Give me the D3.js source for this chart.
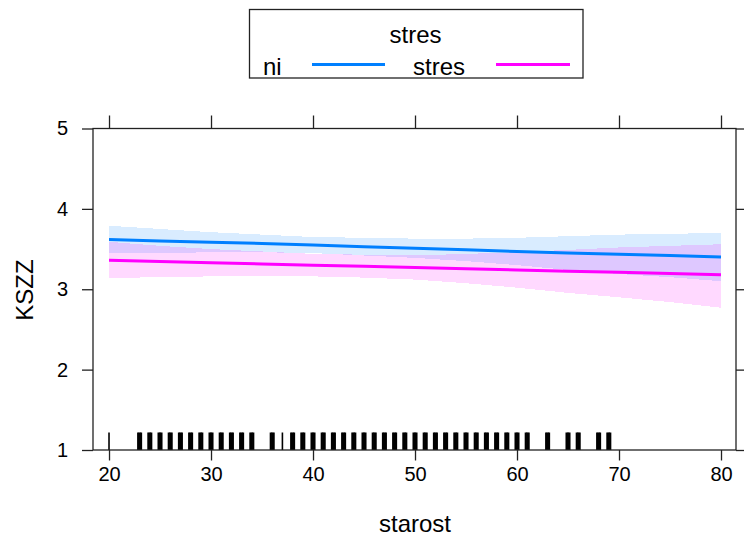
<!DOCTYPE html>
<html>
<head>
<meta charset="utf-8">
<script src="https://cdn.jsdelivr.net/npm/d3@7"></script>
<style>
  html, body { margin: 0; padding: 0; background: #fff; }
  text { font-family: "Liberation Sans", Arial, sans-serif; fill: #000; }
</style>
</head>
<body>
<svg id="chart" width="744" height="540"></svg>
<script>
// ---- data ----
const ages = [20, 25, 30, 35, 40, 45, 50, 55, 60, 65, 70, 75, 80];
const niFit   = [3.62, 3.60, 3.585, 3.57, 3.55, 3.53, 3.51, 3.49, 3.47, 3.45, 3.435, 3.42, 3.40];
const niUpper = [3.79, 3.75, 3.71, 3.68, 3.65, 3.64, 3.63, 3.63, 3.64, 3.66, 3.68, 3.69, 3.70];
const niLower = [3.45, 3.45, 3.46, 3.46, 3.45, 3.42, 3.39, 3.35, 3.30, 3.24, 3.19, 3.15, 3.10];
const stresFit   = [3.36, 3.345, 3.33, 3.315, 3.30, 3.285, 3.27, 3.255, 3.24, 3.225, 3.21, 3.195, 3.18];
const stresUpper = [3.59, 3.54, 3.50, 3.47, 3.44, 3.43, 3.42, 3.44, 3.46, 3.49, 3.52, 3.54, 3.56];
const stresLower = [3.14, 3.15, 3.16, 3.165, 3.16, 3.145, 3.12, 3.075, 3.02, 2.955, 2.90, 2.84, 2.77];
const rugAges   = [20, 23, 24, 25, 26, 27, 28, 29, 30, 31, 32, 33, 34, 36, 37, 38, 39, 40, 41, 42, 43, 44, 45, 46, 47, 48, 49,
                   50, 51, 52, 53, 54, 55, 56, 57, 58, 59, 60, 61, 63, 65, 66, 68, 69];
const rugCounts = [1, 3, 3, 3, 3, 3, 3, 3, 3, 3, 3, 3, 3, 3, 1, 3, 3, 3, 3, 3, 3, 3, 3, 3, 3, 3, 3,
                   3, 3, 3, 3, 3, 3, 3, 3, 3, 3, 3, 3, 3, 3, 3, 3, 3];
const xTicks = [20, 30, 40, 50, 60, 70, 80];
const yTicks = [1, 2, 3, 4, 5];
const groups = ["ni", "stres"];
const groupColors = ["#0080ff", "#ff00ff"];

// ---- layout ----
const svg = d3.select("#chart");
const L = 93, R = 736, T = 128.5, B = 450;
const x = d3.scaleLinear().domain([18.43, 81.47]).range([L, R]);
const y = d3.scaleLinear().domain([1, 5]).range([B, T]);

const series = [
  {fit: niFit, up: niUpper, lo: niLower, color: groupColors[0]},
  {fit: stresFit, up: stresUpper, lo: stresLower, color: groupColors[1]}
];

// bands
const area = d3.area().x((d, i) => x(ages[i])).y0(d => y(d[0])).y1(d => y(d[1]));
series.forEach(s => {
  const pts = ages.map((a, i) => [s.lo[i], s.up[i]]);
  svg.append("path").attr("d", area(pts)).attr("fill", s.color).attr("fill-opacity", 0.15)
    .attr("shape-rendering", "crispEdges");
});
// fit lines
const line = d3.line().x((d, i) => x(ages[i])).y(d => y(d));
series.forEach(s => {
  svg.append("path").attr("d", line(s.fit)).attr("fill", "none").attr("stroke", s.color)
    .attr("stroke-width", 3);
});

// rug
const rugG = svg.append("g");
rugAges.forEach((a, i) => {
  const n = rugCounts[i];
  for (let k = 0; k < n; k++) {
    const off = n === 1 ? 0 : (k / (n - 1) - 0.5) * 0.28;
    rugG.append("line").attr("x1", x(a + off)).attr("x2", x(a + off))
      .attr("y1", 432.5).attr("y2", B).attr("stroke", "#000").attr("stroke-width", n === 1 ? 1.6 : 2.2);
  }
});

// frame
svg.append("rect").attr("x", L).attr("y", T).attr("width", R - L).attr("height", B - T)
  .attr("fill", "none").attr("stroke", "#222").attr("stroke-width", 1.3);

// axes
const fontTick = "20px";
const axBottom = svg.append("g").attr("transform", `translate(0,${B})`)
  .call(d3.axisBottom(x).tickValues(xTicks).tickSize(10.5).tickPadding(6).tickFormat(d3.format("d")));
const axLeft = svg.append("g").attr("transform", `translate(${L},0)`)
  .call(d3.axisLeft(y).tickValues(yTicks).tickSize(11).tickPadding(14).tickFormat(d3.format("d")));
const axTop = svg.append("g").attr("transform", `translate(0,${T})`)
  .call(d3.axisTop(x).tickValues(xTicks).tickSize(13).tickFormat(""));
const axRight = svg.append("g").attr("transform", `translate(${R},0)`)
  .call(d3.axisRight(y).tickValues(yTicks).tickSize(11).tickFormat(""));
[axBottom, axLeft, axTop, axRight].forEach(g => {
  g.select(".domain").remove();
  g.selectAll(".tick line").attr("stroke", "#222").attr("stroke-width", 1.3);
  g.selectAll(".tick text").attr("font-size", fontTick).attr("font-family", "Liberation Sans, Arial, sans-serif").attr("fill", "#000");
});

// axis titles
svg.append("text").attr("x", 415).attr("y", 532).attr("text-anchor", "middle")
  .attr("font-size", "24px").text("starost");
svg.append("text").attr("transform", "translate(33,290) rotate(-90)").attr("text-anchor", "middle")
  .attr("font-size", "24px").text("KSZZ");

// legend
svg.append("rect").attr("x", 249.5).attr("y", 9.5).attr("width", 333.5).attr("height", 68.5)
  .attr("fill", "#fff").attr("stroke", "#222").attr("stroke-width", 1.3);
svg.append("text").attr("x", 415.5).attr("y", 43).attr("text-anchor", "middle")
  .attr("font-size", "24px").text("stres");
const legItems = [
  {label: groups[0], tx: 263, lx1: 312, lx2: 385, color: groupColors[0]},
  {label: groups[1], tx: 413, lx1: 496, lx2: 570, color: groupColors[1]}
];
legItems.forEach(d => {
  svg.append("text").attr("x", d.tx).attr("y", 75).attr("font-size", "24px").text(d.label);
  svg.append("line").attr("x1", d.lx1).attr("x2", d.lx2).attr("y1", 64.5).attr("y2", 64.5)
    .attr("stroke", d.color).attr("stroke-width", 3);
});
</script>
</body>
</html>
